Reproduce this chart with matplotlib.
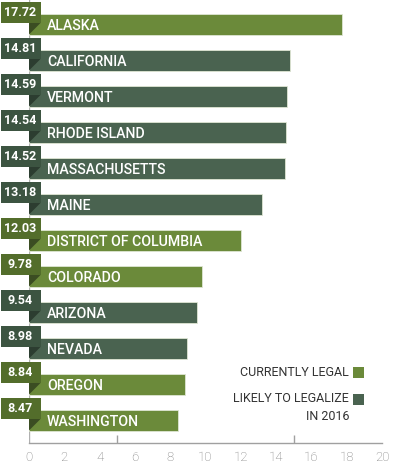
import matplotlib
matplotlib.use("Agg")
import matplotlib.pyplot as plt
from matplotlib.patches import Rectangle, Polygon

states = ["ALASKA", "CALIFORNIA", "VERMONT", "RHODE ISLAND", "MASSACHUSETTS", "MAINE",
          "DISTRICT OF COLUMBIA", "COLORADO", "ARIZONA", "NEVADA", "OREGON", "WASHINGTON"]
values = [17.72, 14.81, 14.59, 14.54, 14.52, 13.18, 12.03, 9.78, 9.54, 8.98, 8.84, 8.47]
status = ["legal", "likely", "likely", "likely", "likely", "likely",
          "legal", "legal", "likely", "likely", "legal", "legal"]
xticks = [0, 2, 4, 6, 8, 10, 12, 14, 16, 18, 20]
minor_ticks = [5, 10, 15, 20]
legend_labels = ["CURRENTLY LEGAL", "LIKELY TO LEGALIZE\nIN 2016"]

bar_col = {"legal": "#6b8a3a", "likely": "#4a6350"}
box_col = {"legal": "#536d2b", "likely": "#3c5441"}
tri_col = {"legal": "#3b4d22", "likely": "#2c3d30"}

FONT = ["Roboto", "DejaVu Sans"]
plt.rcParams["font.family"] = FONT

fig = plt.figure(figsize=(4.0, 4.76), dpi=100)
W, H = 400, 476
ax = fig.add_axes([29 / W, 1 - 443 / H, 353 / W, 443 / H])
ax.set_xlim(0, 20)
ax.set_ylim((443 - 24.5) / 36, -24.5 / 36)

ys = list(range(len(states)))
ax.barh(ys, values, height=21 / 36, color=[bar_col[s] for s in status],
        edgecolor="#dfe6d4", linewidth=0.6, zorder=3)

px = 20 / 353.0  # data units per pixel in x
py = 1 / 36.0    # data units per pixel in y
for y, name, v, s in zip(ys, states, values, status):
    ax.add_patch(Rectangle((-28 * px, y - 22.5 * py), 39.5 * px, 21 * py,
                           facecolor=box_col[s], edgecolor="none",
                           zorder=5, clip_on=False))
    ax.add_patch(Polygon([(0, y - 1.5 * py), (11.5 * px, y - 1.5 * py), (0, y + 10 * py)],
                         closed=True, facecolor=tri_col[s], edgecolor="none",
                         zorder=5, clip_on=False))
    ax.text(-8.5 * px, y - 12.5 * py, f"{v:.2f}", color="white", fontsize=9,
            fontweight="bold", ha="center", va="center", zorder=6, clip_on=False)
    ax.text(18 * px, y + 1 * py, name, color="white", fontsize=10.2,
            fontweight="medium", ha="left", va="center", zorder=6)

ax.axvline(0, color="#b0b0b0", linewidth=1.0, zorder=2)

for sp in ["top", "right", "left"]:
    ax.spines[sp].set_visible(False)
ax.spines["bottom"].set_color("#a0a0a0")
ax.spines["bottom"].set_linewidth(1.0)
ax.set_yticks([])
ax.set_xticks(xticks)
ax.set_xticklabels([str(t) for t in xticks])
ax.tick_params(axis="x", which="major", length=0, pad=6, labelsize=9.5,
               labelcolor="#7a7a7a")
for lab in ax.get_xticklabels():
    lab.set_fontweight("light")
ax.set_xticks(minor_ticks, minor=True)
ax.tick_params(axis="x", which="minor", direction="in", length=6, width=1.0,
               color="#a0a0a0")

leg_y = [372, 399]
for (lbl, key, yy) in zip(legend_labels, ["legal", "likely"], leg_y):
    for k, line in enumerate(lbl.split("\n")):
        fig.text(349 / W, 1 - (yy + 17 * k) / H, line, color="#333333", fontsize=9,
                 ha="right", va="center")
    fig.patches.append(Rectangle((353 / W, 1 - (yy + 5.5) / H), 11 / W, 11 / H,
                                 facecolor=bar_col[key], edgecolor="none",
                                 transform=fig.transFigure, figure=fig))

fig.savefig("out.png", dpi=100)
